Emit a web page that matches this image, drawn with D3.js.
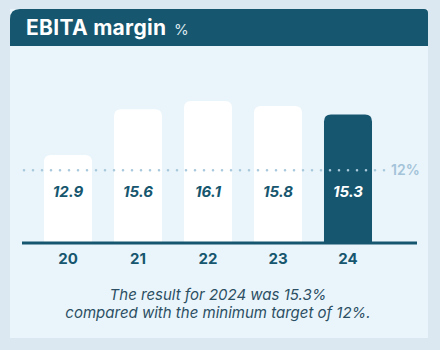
<!DOCTYPE html>
<html>
<head>
<meta charset="utf-8">
<script src="https://cdn.jsdelivr.net/npm/d3@7"></script>
<style>
  body { margin: 0; background: #dce8f1; }
  svg { display: block; }
</style>
</head>
<body>
<div id="chart"></div>
<script>
const years = ["20", "21", "22", "23", "24"];
const margins = [12.9, 15.6, 16.1, 15.8, 15.3];
const target = 12;
const titleText = "EBITA margin";
const unitText = "%";
const caption = ["The result for 2024 was 15.3%", "compared with the minimum target of 12%."];

const W = 440, H = 350;
const dark = "#16566e";
const font = "Inter, 'Open Sans', sans-serif";

const svg = d3.select("#chart").append("svg")
  .attr("width", W)
  .attr("height", H);

// card body
svg.append("rect")
  .attr("x", 10).attr("y", 9)
  .attr("width", 418).attr("height", 329)
  .attr("fill", "#eaf5fb");

// header with bigger round on left corner
svg.append("path")
  .attr("d", "M10,46 L10,19 Q10,9 20,9 L424,9 Q428,9 428,13 L428,46 Z")
  .attr("fill", dark);

svg.append("text")
  .attr("x", 26).attr("y", 35)
  .attr("font-family", font)
  .attr("font-size", 21)
  .attr("font-weight", 700)
  .attr("letter-spacing", 0.3)
  .attr("fill", "white")
  .text(titleText);

svg.append("text")
  .attr("x", 174).attr("y", 35)
  .attr("font-family", font)
  .attr("font-size", 15)
  .attr("fill", "#dbe8ef")
  .text(unitText);

const x = d3.scaleBand()
  .domain(years)
  .range([33, 383])
  .paddingInner(0.314)
  .paddingOuter(0.157);

const y = d3.scaleLinear()
  .domain([7.75, 17])
  .range([242, 242 - 9.25 * 16.9]);

function topRounded(x0, y0, w, h, r) {
  return "M" + x0 + "," + (y0 + h) +
    " L" + x0 + "," + (y0 + r) +
    " Q" + x0 + "," + y0 + " " + (x0 + r) + "," + y0 +
    " L" + (x0 + w - r) + "," + y0 +
    " Q" + (x0 + w) + "," + y0 + " " + (x0 + w) + "," + (y0 + r) +
    " L" + (x0 + w) + "," + (y0 + h) + " Z";
}

const last = years.length - 1;

svg.append("g").selectAll("path")
  .data(margins)
  .join("path")
  .attr("d", (d, i) => topRounded(x(years[i]), y(d), x.bandwidth(), y.range()[0] - y(d), 7))
  .attr("fill", (d, i) => i === last ? dark : "white");

// target dotted line
const ty = y(target);
svg.append("line")
  .attr("x1", 24).attr("x2", 385)
  .attr("y1", ty).attr("y2", ty)
  .attr("stroke", "#a8c8db")
  .attr("stroke-width", 2.6)
  .attr("stroke-linecap", "round")
  .attr("stroke-dasharray", "0 9");

svg.append("text")
  .attr("x", 391).attr("y", ty)
  .attr("dy", "0.35em")
  .attr("font-family", font)
  .attr("font-size", 14)
  .attr("font-weight", 600)
  .attr("fill", "#a3c3d8")
  .text(target + "%");

// value labels
svg.append("g").selectAll("text")
  .data(margins)
  .join("text")
  .attr("x", (d, i) => x(years[i]) + x.bandwidth() / 2)
  .attr("y", 192)
  .attr("dy", "0.35em")
  .attr("text-anchor", "middle")
  .attr("font-family", font)
  .attr("font-size", 15)
  .attr("font-weight", 700)
  .attr("font-style", "italic")
  .attr("fill", (d, i) => i === last ? "white" : dark)
  .text(d => d.toFixed(1));

// baseline
svg.append("line")
  .attr("x1", 22).attr("x2", 417)
  .attr("y1", 243).attr("y2", 243)
  .attr("stroke", dark)
  .attr("stroke-width", 3);

const xAxis = svg.append("g")
  .attr("transform", "translate(0,244)")
  .call(d3.axisBottom(x).tickSize(0).tickPadding(9));
xAxis.select(".domain").remove();
xAxis.selectAll("text")
  .attr("font-family", font)
  .attr("font-size", 15)
  .attr("font-weight", 700)
  .attr("fill", dark);

svg.append("g").selectAll("text")
  .data(caption)
  .join("text")
  .attr("x", 218)
  .attr("y", (d, i) => 300 + i * 18)
  .attr("text-anchor", "middle")
  .attr("font-family", font)
  .attr("font-size", 15)
  .attr("font-style", "italic")
  .attr("fill", "#2c4f63")
  .text(d => d);
</script>
</body>
</html>
